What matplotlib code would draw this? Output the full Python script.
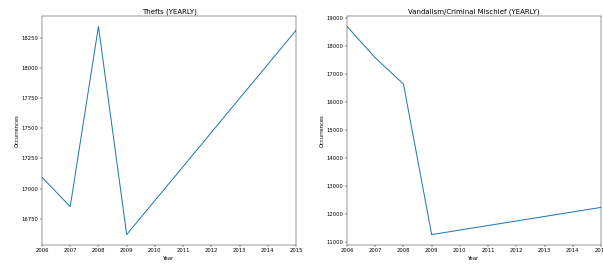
import matplotlib
matplotlib.use("Agg")
import matplotlib.pyplot as plt

# 数据
thefts_years = [2006, 2007, 2008, 2009, 2015]
thefts_counts = [17093, 16850, 18345, 16618, 18312]

vandal_years = [2006, 2007, 2008, 2009, 2015]
vandal_counts = [18700, 17580, 16645, 11270, 12240]

year_ticks = list(range(2006, 2016))

plt.rcParams["font.size"] = 10.5
plt.rcParams["axes.titlesize"] = 14

# 画布 (原图缩小后约 36dpi)
fig = plt.figure(figsize=(603 / 36, 268 / 36), dpi=36)

ax1 = fig.add_axes([42 / 603, 1 - 245 / 268, 254 / 603, 229 / 268])
ax1.plot(thefts_years, thefts_counts, color="#1f77b4", linewidth=2)
ax1.set_xlim(2006, 2015)
ax1.set_xticks(year_ticks)
ax1.set_title("Thefts (YEARLY)")
ax1.set_xlabel("Year")
ax1.set_ylabel("Occurrences")

ax2 = fig.add_axes([347 / 603, 1 - 245 / 268, 254 / 603, 229 / 268])
ax2.plot(vandal_years, vandal_counts, color="#1f77b4", linewidth=2)
ax2.set_xlim(2006, 2015)
ax2.set_xticks(year_ticks)
ax2.set_title("Vandalism/Criminal Mischief (YEARLY)")
ax2.set_xlabel("Year")
ax2.set_ylabel("Occurrences")

fig.savefig("out.png", dpi=36)
